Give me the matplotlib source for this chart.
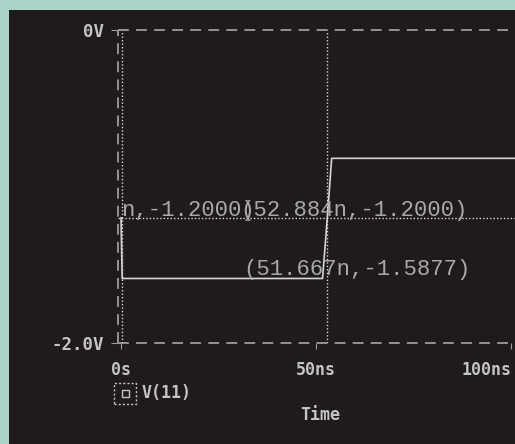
import numpy as np
import matplotlib.pyplot as plt
from matplotlib.patches import Rectangle

# Waveform V(11), time in ns, voltage in V
time_ns = [0.0, 0.3, 51.667, 52.884, 54.0, 101.0]
volts = [-1.2, -1.5877, -1.5877, -1.2, -0.82, -0.82]

# Cursors
cursor1_t = 0.25
cursor2_t = 52.884
cursor_v = -1.2
label_a = 'n,-1.2000)'
label_b = '(52.884n,-1.2000)'
label_c = '(51.667n,-1.5877)'

xticks = [0, 50, 100]
xtick_labels = ['0s', '50ns', '100ns']
yticks = [0, -2]
ytick_labels = ['0V', '-2.0V']

bg = '#1f1b1c'
fg = '#c4c4c4'
grid_c = '#9c9c9c'

fig = plt.figure(figsize=(5.15, 4.44), dpi=100)
fig.patch.set_facecolor('#a9d4cb')
fig.patches.append(Rectangle((9 / 515, 0), 1, 1 - 10 / 444, transform=fig.transFigure,
                             facecolor=bg, edgecolor='none', zorder=-5))

ax = fig.add_axes([118 / 515, 101 / 444, 397 / 515, 313 / 444])
ax.set_facecolor(bg)
ax.set_xlim(-0.77, 101.0)
ax.set_ylim(-2.0, 0.0)
for s in ax.spines.values():
    s.set_visible(False)

# grid-like dashed frame
dash = (0, (6, 4))
ax.axhline(0, color=grid_c, lw=1.3, ls=dash, clip_on=False)
ax.axhline(-2, color=grid_c, lw=1.3, ls=dash, clip_on=False)
ax.axvline(-0.77, color=grid_c, lw=1.3, ls=dash, clip_on=False)

# cursor lines
ax.axvline(cursor1_t, color='#d8d8d8', lw=1.0, ls=(0, (1, 1.5)))
ax.axvline(cursor2_t, color='#d8d8d8', lw=1.0, ls=(0, (1, 1.5)))
ax.axhline(cursor_v, color='#d8d8d8', lw=1.0, ls=(0, (1, 1.5)))

# signal
ax.plot(time_ns, volts, color='#d6d6d6', lw=1.2)

# cursor annotations
tfont = dict(family='Liberation Mono', fontsize=16, color='#a8a8a8')
ax.text(0.0, cursor_v + 0.012, label_a, ha='left', va='baseline', **tfont)
ax.text(30.5, cursor_v + 0.012, label_b, ha='left', va='baseline', **tfont)
ax.text(31.3, -1.5877 + 0.02, label_c, ha='left', va='baseline', **tfont)

mono = dict(family='DejaVu Sans Mono', fontweight='bold', color=fg)
ax.set_xticks(xticks)
ax.set_xticklabels(xtick_labels, fontsize=12, **mono)
ax.get_xticklabels()[-1].set_horizontalalignment('right')
ax.set_yticks(yticks)
ax.set_yticklabels(ytick_labels, fontsize=12.5, **mono)
ax.tick_params(axis='x', length=4, color=grid_c, pad=9)
ax.tick_params(axis='y', length=5, color=grid_c, pad=5)

# legend marker and label
fig.patches.append(Rectangle((114 / 515, 1 - 404 / 444), 22 / 515, 21 / 444,
                             transform=fig.transFigure, facecolor='none',
                             edgecolor=fg, lw=1.0, ls=(0, (1.5, 1.5))))
fig.patches.append(Rectangle((122 / 515, 1 - 397 / 444), 7 / 515, 7 / 444,
                             transform=fig.transFigure, facecolor='none',
                             edgecolor=fg, lw=1.0))
fig.text(142 / 515, 1 - 393 / 444, 'V(11)', ha='left', va='center', fontsize=12, **mono)
fig.text(320 / 515, 1 - 415 / 444, 'Time', ha='center', va='center', fontsize=12, **mono)

fig.savefig('out.png', dpi=100, facecolor=fig.get_facecolor())
